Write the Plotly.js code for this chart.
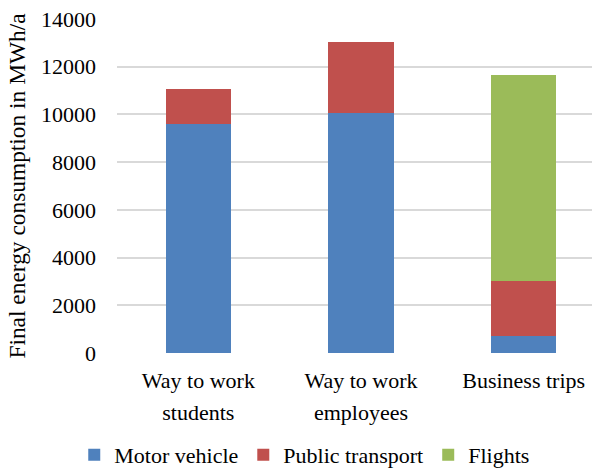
<!DOCTYPE html>
<html>
<head>
<meta charset="utf-8">
<script src="https://cdn.plot.ly/plotly-3.0.1.min.js"></script>
<style>html,body{margin:0;padding:0;background:#fff;overflow:hidden;}</style>
</head>
<body>
<div id="chart" style="width:592px;height:468px;"></div>
<script>
const categoryLine1 = ["Way to work", "Way to work", "Business trips"];
const categoryLine2 = ["students", "employees", ""];
const motorVehicle = [9600, 10050, 700];
const publicTransport = [1450, 3000, 2300];
const flights = [0, 0, 8650];
const seriesNames = ["Motor vehicle", "Public transport", "Flights"];
const seriesColors = ["#4f81bd", "#c0504d", "#9bbb59"];
const yTicks = [0, 2000, 4000, 6000, 8000, 10000, 12000, 14000];

const font = {family: "Liberation Serif", size: 22, color: "#000"};
const titleFont = {family: "Liberation Serif", size: 23.4, color: "#000"};
const seriesValues = [motorVehicle, publicTransport, flights];
const idx = [0, 1, 2];
const traces = seriesValues.map((vals, i) => ({
  type: "bar",
  x: idx,
  y: vals,
  name: seriesNames[i],
  width: 0.4,
  marker: {color: seriesColors[i], line: {width: 0}},
  hoverinfo: "none"
}));
// helper trace so the second label row axis is drawn
traces.push({type: "scatter", mode: "markers", x: idx, y: [0, 0, 0], xaxis: "x2",
  marker: {opacity: 0}, showlegend: false, hoverinfo: "none"});

const xRange = [-0.5, 2.42];
const layout = {
  width: 592, height: 468,
  margin: {l: 117, r: 0, t: 19, b: 115, autoexpand: false},
  barmode: "stack",
  paper_bgcolor: "#fff", plot_bgcolor: "#fff",
  font: font,
  showlegend: true,
  legend: {orientation: "h", x: -0.09, xanchor: "left", y: -0.305, yanchor: "middle",
           font: font, traceorder: "normal", itemclick: false},
  xaxis: {
    range: xRange, tickvals: idx, ticktext: categoryLine1,
    showgrid: false, zeroline: false, showline: false, ticks: "",
    tickfont: font, ticklabelstandoff: 12, automargin: false, fixedrange: true
  },
  xaxis2: {
    overlaying: "x", side: "bottom", anchor: "y",
    range: xRange, tickvals: idx, ticktext: categoryLine2,
    showgrid: false, zeroline: false, showline: false, ticks: "",
    tickfont: font, ticklabelstandoff: 44, automargin: false, fixedrange: true
  },
  yaxis: {
    range: [0, 14000], tickvals: yTicks, ticktext: yTicks.map(String),
    showgrid: true, gridcolor: "#d9d9d9", gridwidth: 2,
    zeroline: false, showline: false, ticks: "",
    tickfont: font, ticklabelstandoff: 20, automargin: false,
    title: {text: "Final energy consumption in MWh/a", font: titleFont, standoff: 8},
    fixedrange: true
  }
};
Plotly.newPlot("chart", traces, layout, {staticPlot: true, displayModeBar: false});
</script>
</body>
</html>
